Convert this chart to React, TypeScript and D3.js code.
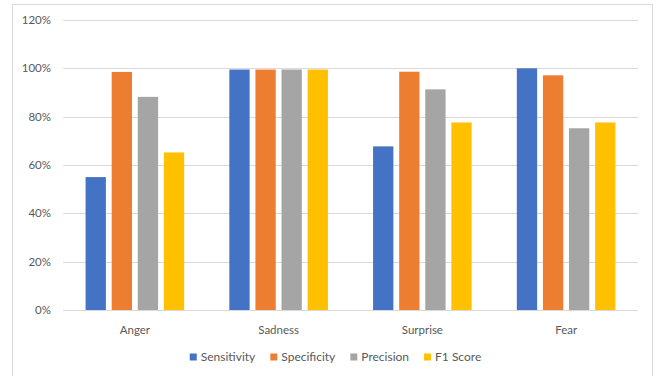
import React, { useEffect, useRef } from "react";
import * as d3 from "d3";

const categories = ["Anger", "Sadness", "Surprise", "Fear"];
const seriesNames = ["Sensitivity", "Specificity", "Precision", "F1 Score"];
const sensitivity = [0.55, 0.995, 0.677, 1.0];
const specificity = [0.985, 0.995, 0.986, 0.971];
const precision = [0.882, 0.995, 0.913, 0.752];
const f1Score = [0.652, 0.995, 0.776, 0.776];
const yTicks = [0, 0.2, 0.4, 0.6, 0.8, 1.0, 1.2];
const colors = ["#4472C4", "#ED7D31", "#A5A5A5", "#FFC000"];

const W = 660;
const H = 376;
const FONT = "Lato, 'Open Sans', sans-serif";

export default function App() {
  const ref = useRef<SVGSVGElement>(null);

  useEffect(() => {
    const svg = d3.select(ref.current);
    svg.selectAll("*").remove();

    const series = [sensitivity, specificity, precision, f1Score];

    svg
      .append("rect")
      .attr("x", 12.5)
      .attr("y", 4.5)
      .attr("width", 640)
      .attr("height", 380)
      .attr("fill", "#fff")
      .attr("stroke", "#D9D9D9");

    const x = d3.scaleBand().domain(categories).range([63, 638]).padding(0);
    const y = d3.scaleLinear().domain([0, 1.2]).range([310, 20]);
    const barW = 20.3;
    const pitch = 26.1;

    const grid = svg.append("g");
    grid
      .selectAll("line")
      .data(yTicks)
      .join("line")
      .attr("x1", 63)
      .attr("x2", 638)
      .attr("y1", (d) => Math.round(y(d)) + 0.5)
      .attr("y2", (d) => Math.round(y(d)) + 0.5)
      .attr("stroke", "#D9D9D9")
      .attr("stroke-width", 1);

    svg
      .append("g")
      .selectAll("text")
      .data(yTicks)
      .join("text")
      .attr("x", 51)
      .attr("y", (d) => y(d))
      .attr("dy", "0.35em")
      .attr("text-anchor", "end")
      .attr("font-family", FONT)
      .attr("font-size", 11.5)
      .attr("fill", "#595959")
      .text((d) => d3.format(".0%")(d));

    const bars = svg.append("g");
    series.forEach((vals, si) => {
      bars
        .append("g")
        .selectAll("rect")
        .data(vals)
        .join("rect")
        .attr("x", (_, i) => {
          const c = (x(categories[i]) as number) + x.bandwidth() / 2;
          return c - (pitch * 4 - (pitch - barW)) / 2 + si * pitch;
        })
        .attr("y", (d) => y(d))
        .attr("width", barW)
        .attr("height", (d) => y(0) - y(d))
        .attr("fill", colors[si]);
    });

    svg
      .append("g")
      .selectAll("text")
      .data(categories)
      .join("text")
      .attr("x", (d) => (x(d) as number) + x.bandwidth() / 2)
      .attr("y", 330)
      .attr("dy", "0.35em")
      .attr("text-anchor", "middle")
      .attr("font-family", FONT)
      .attr("font-size", 11.5)
      .attr("fill", "#595959")
      .text((d) => d);

    // legend
    const lg = svg.append("g");
    const items = seriesNames.map((name, i) => {
      const g = lg.append("g");
      g.append("rect")
        .attr("width", 7)
        .attr("height", 7)
        .attr("y", -3.5)
        .attr("fill", colors[i]);
      const t = g
        .append("text")
        .attr("x", 11)
        .attr("dy", "0.35em")
        .attr("font-family", FONT)
        .attr("font-size", 12)
        .attr("fill", "#595959")
        .text(name);
      const w = 11 + (t.node() as SVGTextElement).getComputedTextLength();
      return { g, w };
    });
    const gap = 15;
    const total = d3.sum(items, (d) => d.w) + gap * (items.length - 1);
    let cx = 335.5 - total / 2;
    items.forEach((it) => {
      it.g.attr("transform", `translate(${cx},357)`);
      cx += it.w + gap;
    });
  }, []);

  return (
    <svg
      ref={ref}
      width={W}
      height={H}
      style={{ position: "absolute", left: 0, top: 0, background: "#fff" }}
    />
  );
}
